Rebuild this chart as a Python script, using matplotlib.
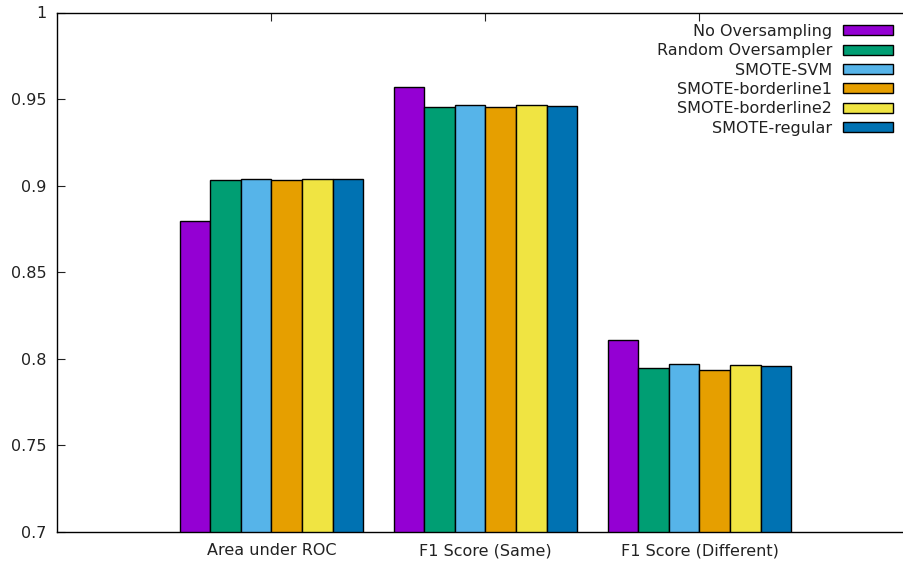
import matplotlib
matplotlib.use("Agg")
import matplotlib.pyplot as plt
import numpy as np

# metrics on the x axis
categories = ["Area under ROC", "F1 Score (Same)", "F1 Score (Different)"]

# one list per oversampling method, values in category order
methods = ["No Oversampling", "Random Oversampler", "SMOTE-SVM",
           "SMOTE-borderline1", "SMOTE-borderline2", "SMOTE-regular"]
no_oversampling = [0.8794, 0.9570, 0.8110]
random_oversampler = [0.9035, 0.9457, 0.7948]
smote_svm = [0.9039, 0.9466, 0.7969]
smote_borderline1 = [0.9033, 0.9453, 0.7936]
smote_borderline2 = [0.9039, 0.9466, 0.7965]
smote_regular = [0.9039, 0.9461, 0.7958]

colors = ["#9400d3", "#009e73", "#56b4e9", "#e69f00", "#f0e442", "#0072b2"]

series = [no_oversampling, random_oversampler, smote_svm,
          smote_borderline1, smote_borderline2, smote_regular]

fig = plt.figure(figsize=(9.04, 5.63), dpi=100)
# axes run past the right edge, like the cropped gnuplot output
ax = fig.add_axes([57.5 / 904, 31 / 563, 856 / 904, 519.5 / 563])

x = np.arange(len(categories))
n = len(series)
width = 1.0 / (n + 1)  # gnuplot histogram, gap 1
for i, (vals, name, c) in enumerate(zip(series, methods, colors)):
    offset = (i - (n - 1) / 2) * width
    ax.bar(x + offset, vals, width, color=c, edgecolor="black",
           linewidth=1.0, label=name, zorder=2)

ax.set_xlim(-1, 3)
ax.set_ylim(0.7, 1.0)
ax.set_yticks([0.7, 0.75, 0.8, 0.85, 0.9, 0.95, 1.0])
ax.set_yticklabels(["0.7", "0.75", "0.8", "0.85", "0.9", "0.95", "1"])
ax.set_xticks(x)
ax.set_xticklabels(categories)
ax.tick_params(direction="in", top=True, right=False, length=6,
               labelsize=11.5, pad=8, colors="#222222", labelcolor="#222222")
ax.spines["right"].set_visible(False)
for s in ax.spines.values():
    s.set_linewidth(1.0)

leg = ax.legend(loc="upper right", bbox_to_anchor=(893 / 904, 1 - 24 / 563),
                bbox_transform=fig.transFigure, frameon=False,
                markerfirst=False, fontsize=11.5, handlelength=3.1,
                handleheight=0.6, labelspacing=0.27, handletextpad=0.7,
                borderpad=0, borderaxespad=0)
# right-align the legend rows as gnuplot does
leg._legend_handle_box.get_children()[0].align = "right"
for t in leg.get_texts():
    t.set_color("#222222")

fig.savefig("out.png", dpi=100)
